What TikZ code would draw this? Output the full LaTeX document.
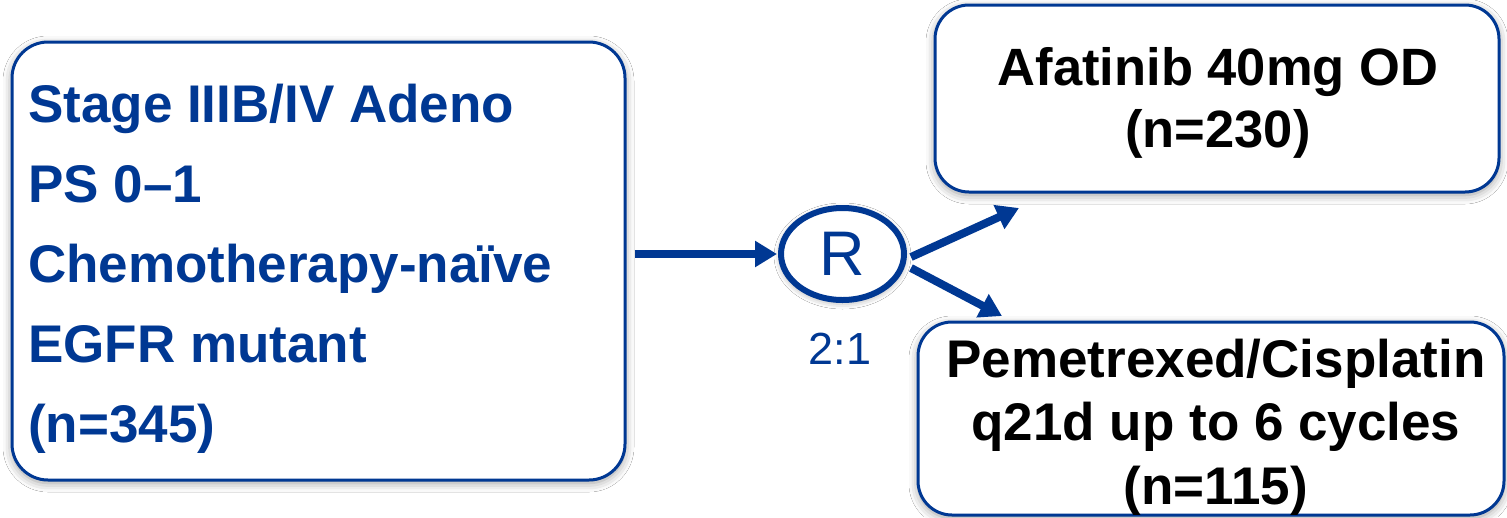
\documentclass[tikz,border=0pt]{standalone}
\usepackage{fontspec}
\setmainfont{Liberation Sans}
\usetikzlibrary{arrows.meta,shadows.blur,shapes.geometric}
\definecolor{dblue}{RGB}{0,56,147}
\begin{document}
\begin{tikzpicture}[x=1pt,y=-1pt,
  box/.style={draw=dblue, line width=3pt, rounded corners=36pt, fill=white, inner sep=0pt,
    blur shadow={shadow xshift=0pt, shadow yshift=-3pt, shadow blur radius=9pt, shadow opacity=40}},
  lt/.style={font=\fontsize{53}{60}\selectfont\bfseries, text=dblue, inner sep=0pt, anchor=base west},
  rt/.style={font=\fontsize{53}{60}\selectfont\bfseries, text=black, inner sep=0pt, anchor=base},
  arr/.style={draw=dblue, line width=8pt, -{Triangle[length=22pt,width=25pt]}}]
\fill[white] (0,0) rectangle (1507,517);
\useasboundingbox (0,0) rectangle (1507,517);
% left box
\node[box, minimum width=613pt, minimum height=438pt] (L) at (318.5,261) {};
\node[lt] (l1) at (28,122) {Stage IIIB/IV Adeno};
\node[lt] (l2) at (28,202) {PS 0–1};
\node[lt] (l3) at (28,282) {Chemotherapy-naïve};
\node[lt] (l4) at (28,362) {EGFR mutant};
\node[lt] (l5) at (28,442) {(n=345)};
% top right box
\node[box, minimum width=564pt, minimum height=187pt, rounded corners=34pt] (A) at (1217,98.5) {};
\node[rt, font=\fontsize{52.5}{60}\selectfont\bfseries] (a1) at (1218,85) {Afatinib 40mg OD};
\node[rt, font=\fontsize{52.5}{60}\selectfont\bfseries] (a2) at (1218,147) {(n=230)};
% bottom right box
\node[box, minimum width=586pt, minimum height=193pt, rounded corners=34pt] (P) at (1211,418.5) {};
\node[rt] (p1) at (1216,377) {Pemetrexed/Cisplatin};
\node[rt] (p2) at (1216,440) {q21d up to 6 cycles};
\node[rt] (p3) at (1216,504) {(n=115)};
% randomisation
\node[ellipse, draw=dblue, line width=6pt, fill=white, minimum width=123pt, minimum height=92pt, inner sep=0pt,
  font=\fontsize{63}{63}\selectfont, text=dblue,
  blur shadow={shadow xshift=0pt, shadow yshift=-2pt, shadow blur radius=7pt, shadow opacity=40}] (R) at (842.5,254) {R};
\node[font=\fontsize{45}{45}\selectfont, text=dblue, anchor=base, inner sep=0pt] (ratio) at (840,364) {2:1};
% arrows
\coordinate (t1) at (1019,208);
\coordinate (t2) at (1002,316);
\draw[arr, shorten >=1pt] ([xshift=8pt]L.east |- R.west) -- (R.west);
\draw[arr] ([shift={(4,3)}]R.east) -- (t1);
\draw[arr] ([shift={(4,14)}]R.east) -- (t2);
\end{tikzpicture}
\end{document}
